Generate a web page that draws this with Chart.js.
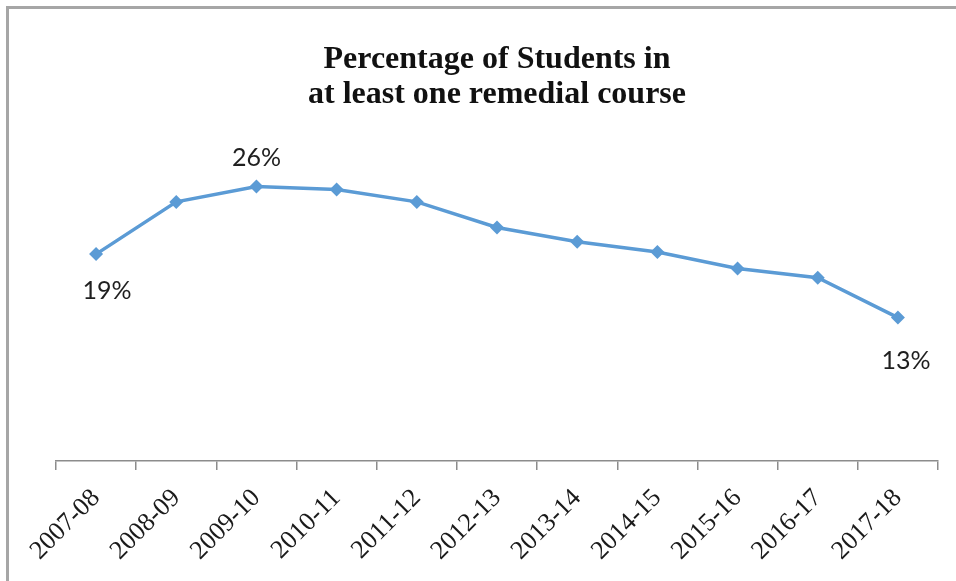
<!DOCTYPE html>
<html>
<head>
<meta charset="utf-8">
<script src="https://cdn.jsdelivr.net/npm/chart.js@4.4.1/dist/chart.umd.min.js"></script>
<style>
  html, body { margin: 0; padding: 0; background: #fff; overflow: hidden; }
  #frame {
    position: absolute; left: 6px; top: 6px; width: 2000px; height: 2000px;
    border-left: 3px solid #a6a6a6; border-top: 3px solid #a6a6a6;
  }
  #wrap { position: absolute; left: 0; top: 0; width: 956px; height: 581px; }
</style>
</head>
<body>
<div id="frame"></div>
<div id="wrap"><canvas id="remedialChart" width="956" height="581"></canvas></div>
<script>
const years = ["2007-08", "2008-09", "2009-10", "2010-11", "2011-12", "2012-13",
  "2013-14", "2014-15", "2015-16", "2016-17", "2017-18"];
const pctRemedial = [19.0, 24.1, 25.6, 25.3, 24.1, 21.6, 20.2, 19.2, 17.6, 16.7, 12.8];
const pointLabels = ["19%", null, "26%", null, null, null, null, null, null, null, "13%"];

const LINE_BLUE = "#5b9bd5";
const AXIS_GREY = "#8c8c8c";

// where each shown value label sits relative to its point (dx, dy)
const labelOffsets = { 0: [11, 37], 2: [0, -29], 10: [8, 43] };

const pointLabelPlugin = {
  id: "pointLabels",
  afterDatasetsDraw(chart) {
    const meta = chart.getDatasetMeta(0);
    const ctx = chart.ctx;
    ctx.save();
    ctx.font = "25px Lato";
    ctx.fillStyle = "#1f1f1f";
    ctx.textAlign = "center";
    ctx.textBaseline = "middle";
    pointLabels.forEach((txt, i) => {
      if (!txt) return;
      const pt = meta.data[i];
      const off = labelOffsets[i] || [0, -25];
      ctx.fillText(txt, pt.x + off[0], pt.y + off[1]);
    });
    ctx.restore();
  },
};

new Chart(document.getElementById("remedialChart"), {
  type: "line",
  data: {
    labels: years,
    datasets: [
      {
        data: pctRemedial,
        borderColor: LINE_BLUE,
        backgroundColor: LINE_BLUE,
        borderWidth: 3.5,
        pointStyle: "rectRot",
        pointRadius: 7,
        pointBackgroundColor: LINE_BLUE,
        pointBorderColor: LINE_BLUE,
        pointBorderWidth: 0,
        tension: 0,
        fill: false,
      },
    ],
  },
  options: {
    responsive: false,
    animation: false,
    layout: { padding: { left: 56, right: 18, top: 0, bottom: 0 } },
    plugins: {
      legend: { display: false },
      tooltip: { enabled: false },
      title: {
        display: true,
        text: ["Percentage of Students in", "at least one remedial course"],
        color: "#111",
        font: { family: "'Liberation Serif', serif", size: 32, weight: "bold", lineHeight: 1.1 },
        padding: { top: 42, bottom: 27 },
      },
    },
    scales: {
      x: {
        type: "category",
        offset: true,
        afterFit: (axis) => { axis.height = 120; },
        border: { color: AXIS_GREY, width: 1.5 },
        grid: {
          offset: true,
          drawOnChartArea: false,
          drawTicks: true,
          tickLength: 9,
          color: AXIS_GREY,
          lineWidth: 1.5,
        },
        ticks: {
          autoSkip: false,
          minRotation: 45,
          maxRotation: 45,
          padding: 13,
          color: "#1a1a1a",
          font: { family: "'Liberation Serif', serif", size: 26 },
        },
      },
      y: {
        display: false,
        min: -1.2,
        max: 30.2,
      },
    },
  },
  plugins: [pointLabelPlugin],
});
</script>
</body>
</html>
